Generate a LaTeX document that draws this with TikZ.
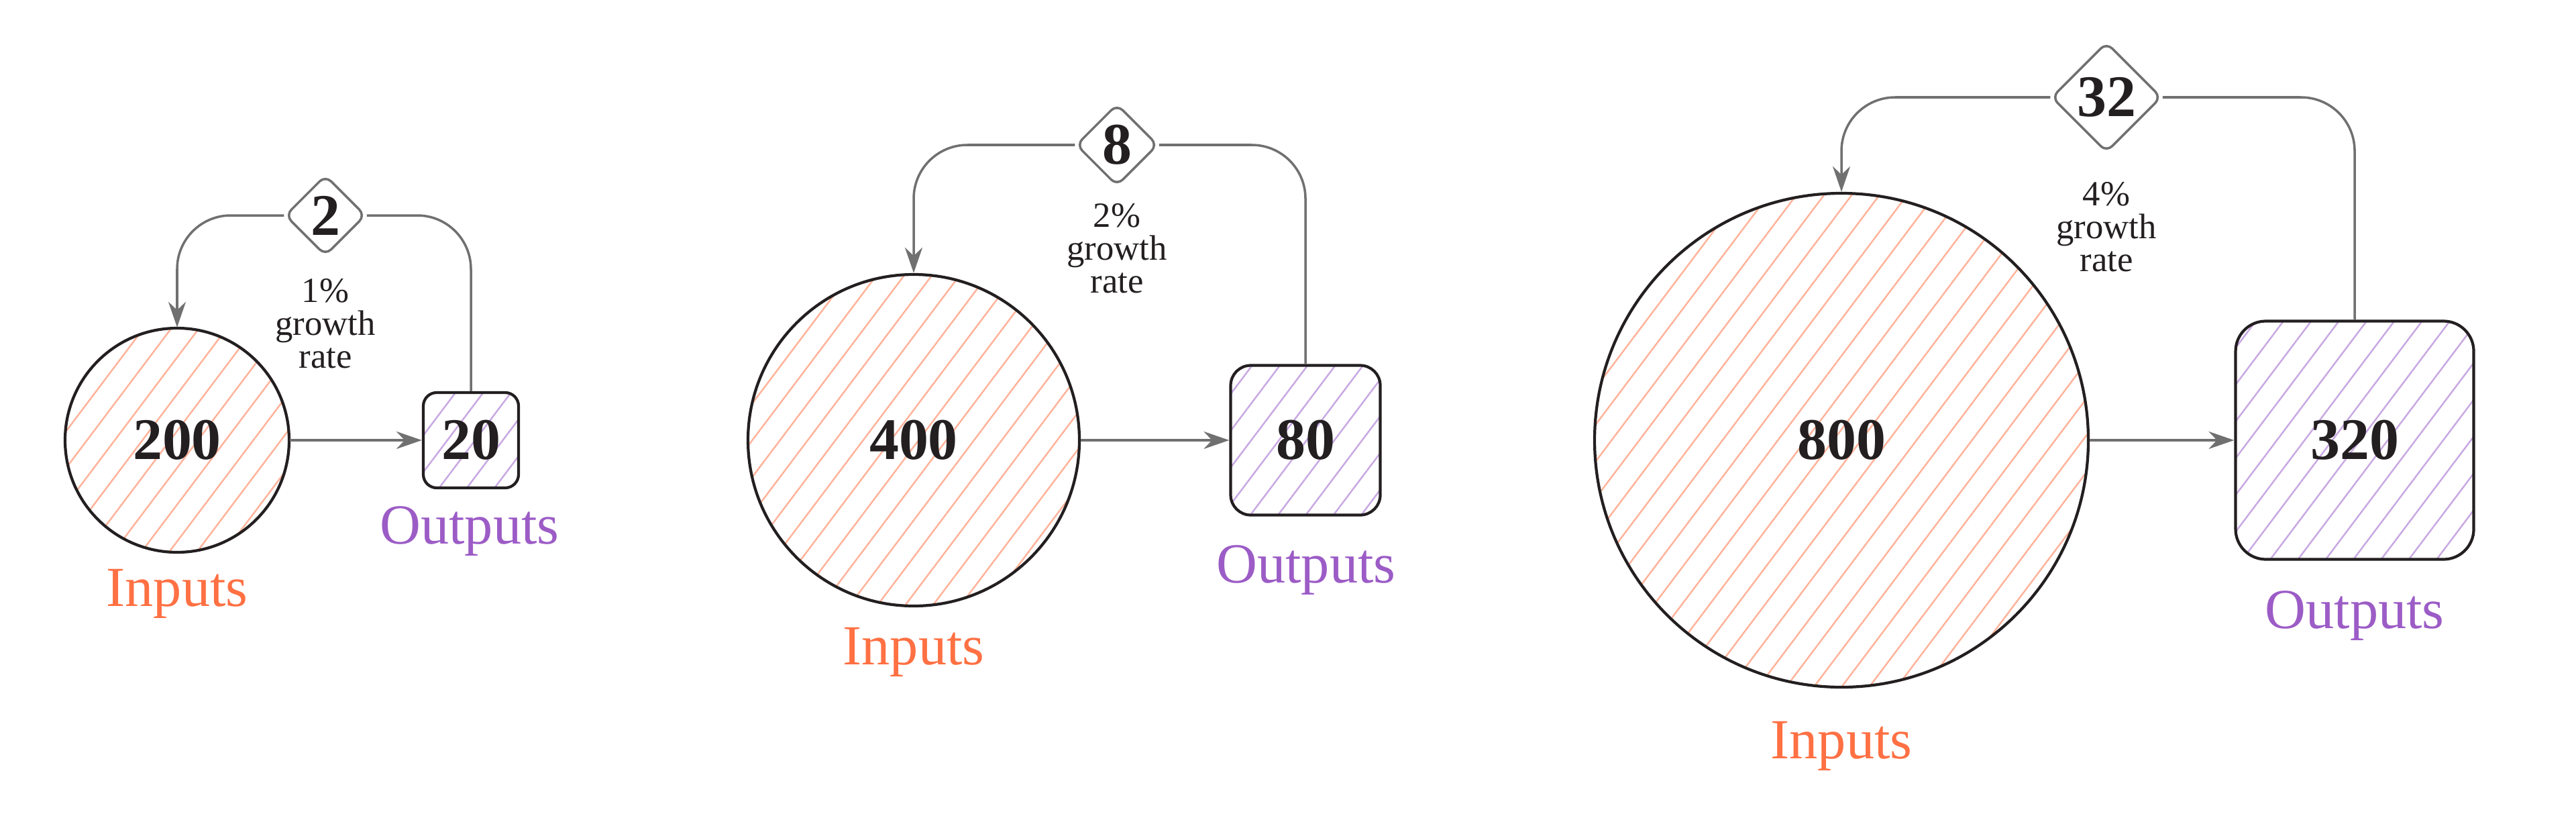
\documentclass[tikz,border=0pt]{standalone}
\usepackage{fontspec}
\setmainfont{Liberation Serif}
\usetikzlibrary{shapes.geometric,arrows.meta,patterns.meta}
\definecolor{inorange}{HTML}{FF7043}
\definecolor{inhatch}{HTML}{FFB39A}
\definecolor{outpurple}{HTML}{9C5CC6}
\definecolor{outhatch}{HTML}{C8A8E2}
\definecolor{conn}{HTML}{707070}
\definecolor{ink}{HTML}{231F20}
\tikzset{
  incircle/.style={circle,draw=ink,line width=1.2pt,minimum size=#1,inner sep=0pt,
    pattern={Lines[angle=53,distance=0.33cm,line width=0.7pt]},pattern color=inhatch,
    font=\fontsize{25}{28}\selectfont\bfseries,text=ink},
  outbox/.style={rectangle,draw=ink,line width=1.2pt,minimum size=#1,inner sep=0pt,
    pattern={Lines[angle=53,distance=0.33cm,line width=0.7pt]},pattern color=outhatch,
    font=\fontsize{25}{28}\selectfont\bfseries,text=ink},
  growthdia/.style={diamond,draw=conn,line width=1pt,fill=white,minimum size=#1,inner sep=0pt,
    rounded corners=0.12cm,font=\fontsize{25}{28}\selectfont\bfseries,text=ink},
  ratetext/.style={align=center,font=\fontsize{15}{14}\selectfont,text=ink},
  inlabel/.style={font=\fontsize{24}{28}\selectfont,text=inorange},
  outlabel/.style={font=\fontsize{24}{28}\selectfont,text=outpurple},
  flow/.style={draw=conn,line width=1pt,-{Stealth[length=0.38cm,width=0.26cm]}},
  loop/.style={draw=conn,line width=1pt,rounded corners=0.8cm}
}
\begin{document}
\begin{tikzpicture}
\useasboundingbox (0,0) rectangle (38.4,-12.12);
% group 1
\node[incircle=3.34cm] (c1) at (2.64,-6.56) {200};
\node[outbox=1.42cm,rounded corners=0.2cm] (b1) at (7.02,-6.56) {20};
\node[growthdia=1.2cm] (d1) at (4.85,-3.21) {2};
\node[ratetext] (t1) at (4.85,-4.82) {1\%\\growth\\rate};
\node[inlabel] (i1) at (2.64,-8.85) {Inputs};
\node[outlabel] (o1) at (7.00,-7.92) {Outputs};
\draw[flow] (c1.east) -- (b1.west);
\draw[loop] (b1.north) |- (d1.east);
\draw[loop,-{Stealth[length=0.38cm,width=0.26cm]}] (d1.west) -| (c1.north);
% group 2
\node[incircle=4.94cm] (c2) at (13.62,-6.56) {400};
\node[outbox=2.23cm,rounded corners=0.3cm] (b2) at (19.46,-6.56) {80};
\node[growthdia=1.22cm] (d2) at (16.65,-2.16) {8};
\node[ratetext] (t2) at (16.65,-3.70) {2\%\\growth\\rate};
\node[inlabel] (i2) at (13.62,-9.72) {Inputs};
\node[outlabel] (o2) at (19.47,-8.50) {Outputs};
\draw[flow] (c2.east) -- (b2.west);
\draw[loop] (b2.north) |- (d2.east);
\draw[loop,-{Stealth[length=0.38cm,width=0.26cm]}] (d2.west) -| (c2.north);
% group 3
\node[incircle=7.36cm] (c3) at (27.45,-6.56) {800};
\node[outbox=3.55cm,rounded corners=0.45cm] (b3) at (35.10,-6.56) {320};
\node[growthdia=1.64cm] (d3) at (31.40,-1.45) {32};
\node[ratetext] (t3) at (31.40,-3.38) {4\%\\growth\\rate};
\node[inlabel] (i3) at (27.45,-11.12) {Inputs};
\node[outlabel] (o3) at (35.10,-9.18) {Outputs};
\draw[flow] (c3.east) -- (b3.west);
\draw[loop] (b3.north) |- (d3.east);
\draw[loop,-{Stealth[length=0.38cm,width=0.26cm]}] (d3.west) -| (c3.north);
\end{tikzpicture}
\end{document}
